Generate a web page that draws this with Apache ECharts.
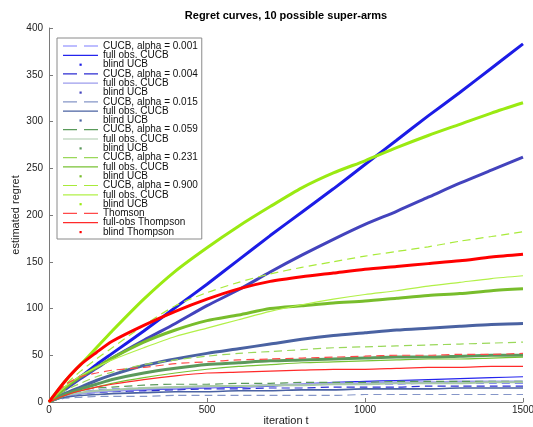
<!DOCTYPE html>
<html>
<head>
<meta charset="utf-8">
<script src="https://cdn.jsdelivr.net/npm/echarts@6/dist/echarts.min.js"></script>
<style>
  html, body { margin: 0; padding: 0; background: #fff; }
  #chart { width: 533px; height: 427px; }
</style>
</head>
<body>
<div id="chart"></div>
<script>
// Iterations at which the regret was sampled
const iterations = [0, 50, 100, 150, 200, 300, 400, 500, 600, 700, 800, 900, 1000, 1100, 1200, 1300, 1400, 1500];

// alpha = 0.001
const cucb_a0001      = [0, 8, 11, 13, 14, 15, 16, 17, 17, 18, 18, 19, 19, 19, 20, 20, 20, 20];
const fullobs_a0001   = [0, 6, 9, 11, 12, 13, 14, 15, 16, 17, 19, 21, 22, 23, 24, 25, 26, 27];
const blind_a0001     = [0, 14, 27, 40, 52, 76, 101, 126, 152, 178, 203, 228, 254, 280, 306, 331, 357, 383];
// alpha = 0.004
const cucb_a0004      = [0, 6, 9, 10, 11, 12, 13, 14, 14, 15, 15, 16, 16, 16, 17, 17, 17, 17];
const fullobs_a0004   = [0, 6, 9, 11, 12, 14, 15, 16, 17, 18, 19, 20, 20, 21, 21, 22, 22, 22];
const blind_a0004     = [0, 13, 25, 36, 47, 66, 84, 103, 120, 139, 157, 174, 190, 204, 219, 234, 248, 262];
// alpha = 0.015
const cucb_a0015      = [0, 4, 5, 6, 6, 6, 7, 7, 7, 7, 7, 7, 8, 8, 8, 8, 8, 8];
const fullobs_a0015   = [0, 5, 7, 8, 9, 10, 11, 11, 12, 12, 13, 13, 14, 14, 14, 15, 15, 15];
const blind_a0015     = [0, 9, 16, 23, 29, 39, 46, 52, 57, 62, 67, 71, 74, 77, 79, 81, 83, 84];
// alpha = 0.059
const cucb_a0059      = [0, 9, 13, 15, 16, 18, 19, 19, 20, 20, 21, 21, 21, 22, 22, 22, 22, 22];
const fullobs_a0059   = [0, 7, 10, 12, 13, 15, 16, 17, 17, 18, 18, 19, 19, 20, 20, 20, 21, 21];
const blind_a0059     = [0, 8, 14, 19, 24, 31, 36, 40, 42, 44, 45, 46, 47, 48, 48, 49, 50, 50];
// alpha = 0.231
const cucb_a0231      = [0, 12, 20, 27, 32, 40, 45, 49, 52, 54, 56, 58, 59, 60, 61, 62, 63, 64];
const fullobs_a0231   = [0, 7, 12, 16, 20, 26, 31, 35, 38, 40, 42, 43, 44, 45, 46, 46, 47, 48];
const blind_a0231     = [0, 15, 27, 37, 47, 64, 77, 87, 93, 100, 103, 106, 108, 111, 114, 116, 119, 121];
// alpha = 0.900
const cucb_a0900      = [0, 18, 33, 46, 58, 82, 103, 117, 128, 137, 144, 150, 156, 161, 166, 172, 177, 182];
const fullobs_a0900   = [0, 16, 28, 37, 45, 58, 70, 79, 88, 97, 104, 110, 115, 119, 124, 128, 132, 135];
const blind_a0900     = [0, 22, 40, 58, 76, 110, 140, 165, 188, 209, 229, 245, 258, 272, 285, 297, 309, 320];
// Thompson sampling
const thompson        = [0, 18, 27, 31, 34, 37, 41, 43, 45, 46, 47, 48, 49, 50, 50, 51, 51, 52];
const fullobsThompson = [0, 7, 12, 16, 19, 24, 28, 31, 32, 33, 34, 35, 35, 36, 37, 37, 38, 38];
const blindThompson   = [0, 22, 40, 53, 65, 82, 97, 110, 121, 129, 134, 138, 142, 145, 148, 151, 155, 158];

const yTicks = [0, 50, 100, 150, 200, 250, 300, 350, 400];
const xTicks = [0, 500, 1000, 1500];

// Curves in drawing order: [label, values, colour, kind, width]
const curves = [
  ['CUCB, alpha = 0.001', cucb_a0001, '#7c7cff', 'dashed', 1.2],
  ['full obs. CUCB', fullobs_a0001, '#2424ee', 'solid', 1.2],
  ['blind UCB', blind_a0001, '#1c1ce6', 'dot', 3],
  ['CUCB, alpha = 0.004', cucb_a0004, '#2d2dd2', 'dashed', 1.2],
  ['full obs. CUCB', fullobs_a0004, '#9c9cec', 'solid', 2],
  ['blind UCB', blind_a0004, '#4343bd', 'dot', 3],
  ['CUCB, alpha = 0.015', cucb_a0015, '#8596c8', 'dashed', 1.2],
  ['full obs. CUCB', fullobs_a0015, '#4a62a2', 'solid', 1.6],
  ['blind UCB', blind_a0015, '#4a62a2', 'dot', 3],
  ['CUCB, alpha = 0.059', cucb_a0059, '#5a9a5a', 'dashed', 1.2],
  ['full obs. CUCB', fullobs_a0059, '#a9c9a9', 'solid', 2],
  ['blind UCB', blind_a0059, '#5b995b', 'dot', 3],
  ['CUCB, alpha = 0.231', cucb_a0231, '#9ad85a', 'dashed', 1.2],
  ['full obs. CUCB', fullobs_a0231, '#78c234', 'solid', 1.2],
  ['blind UCB', blind_a0231, '#78bd2c', 'dot', 3],
  ['CUCB, alpha = 0.900', cucb_a0900, '#a8ea3a', 'dashed', 1.2],
  ['full obs. CUCB', fullobs_a0900, '#b2f048', 'solid', 1.2],
  ['blind UCB', blind_a0900, '#9aea12', 'dot', 3],
  ['Thomson', thompson, '#ff4a4a', 'dashed', 1.2],
  ['full-obs Thompson', fullobsThompson, '#ff2a2a', 'solid', 1.2],
  ['blind Thompson', blindThompson, '#ff0000', 'dot', 3]
];

// Legend samples: a dashed stroke, a solid stroke, or a single dot
const icons = {
  dashed: 'path://M0,0M35,8M0,3.4h14v1.2h-14zM21,3.4h14v1.2h-14z',
  solid: 'path://M0,0M35,8M0,3.4h35v1.2h-35z',
  dot: 'path://M0,0M35,8M16.5,3h2.2v2.2h-2.2z'
};

const series = curves.map((c, i) => ({
  name: c[0] + '|' + i,
  type: 'line',
  data: iterations.map((t, k) => [t, c[1][k]]),
  showSymbol: false,
  symbol: 'none',
  smooth: 0.25,
  silent: true,
  animation: false,
  lineStyle: {
    color: c[2],
    width: c[4],
    type: c[3] === 'dashed' ? [8, 5] : 'solid'
  },
  itemStyle: { color: c[2] },
  emphasis: { disabled: true }
}));

const legendData = curves.map((c, i) => ({
  name: c[0] + '|' + i,
  icon: icons[c[3]],
  itemStyle: { color: c[2], borderWidth: 0 }
}));

const chart = echarts.init(document.getElementById('chart'), null, { renderer: 'canvas' });
chart.setOption({
  animation: false,
  backgroundColor: '#ffffff',
  textStyle: { fontFamily: 'Liberation Sans, Arial, sans-serif' },
  graphic: [{
    type: 'text',
    x: 286,
    y: 16,
    style: {
      text: 'Regret curves, 10 possible super-arms',
      font: 'bold 11px "Liberation Sans", Arial, sans-serif',
      fill: '#000',
      align: 'center',
      verticalAlign: 'middle'
    }
  }],
  grid: { left: 49, right: 10, top: 28, bottom: 25, containLabel: false, outerBoundsMode: 'none' },
  legend: {
    orient: 'vertical',
    left: 57,
    top: 38,
    padding: [3, 4, 2, 6],
    itemWidth: 35,
    itemHeight: 8,
    itemGap: -0.7,
    selectedMode: false,
    backgroundColor: '#ffffff',
    borderColor: '#8a8a8a',
    borderWidth: 1,
    borderRadius: 0,
    textStyle: {
      fontFamily: 'Liberation Sans, Arial, sans-serif',
      fontSize: 10,
      lineHeight: 9,
      color: '#111'
    },
    formatter: name => name.split('|')[0],
    data: legendData
  },
  xAxis: {
    type: 'value',
    min: xTicks[0],
    max: xTicks[xTicks.length - 1],
    interval: 500,
    name: 'iteration t',
    nameLocation: 'middle',
    nameGap: 13,
    nameMoveOverlap: false,
    nameTextStyle: { fontSize: 11, color: '#222' },
    axisLine: { show: true, lineStyle: { color: '#7a7a7a', width: 1 } },
    axisTick: { show: true, inside: true, length: 4, lineStyle: { color: '#7a7a7a' } },
    axisLabel: { fontSize: 10, color: '#222', margin: 3, formatter: v => String(v) },
    splitLine: { show: false }
  },
  yAxis: {
    type: 'value',
    min: yTicks[0],
    max: yTicks[yTicks.length - 1],
    interval: 50,
    name: 'estimated regret',
    nameLocation: 'middle',
    nameGap: 28,
    nameMoveOverlap: false,
    nameTextStyle: { fontSize: 11, color: '#222' },
    axisLine: { show: true, lineStyle: { color: '#7a7a7a', width: 1 } },
    axisTick: { show: true, inside: true, length: 4, lineStyle: { color: '#7a7a7a' } },
    axisLabel: { fontSize: 10, color: '#222', margin: 6, formatter: v => String(v) },
    splitLine: { show: false }
  },
  series: series
});
</script>
</body>
</html>
